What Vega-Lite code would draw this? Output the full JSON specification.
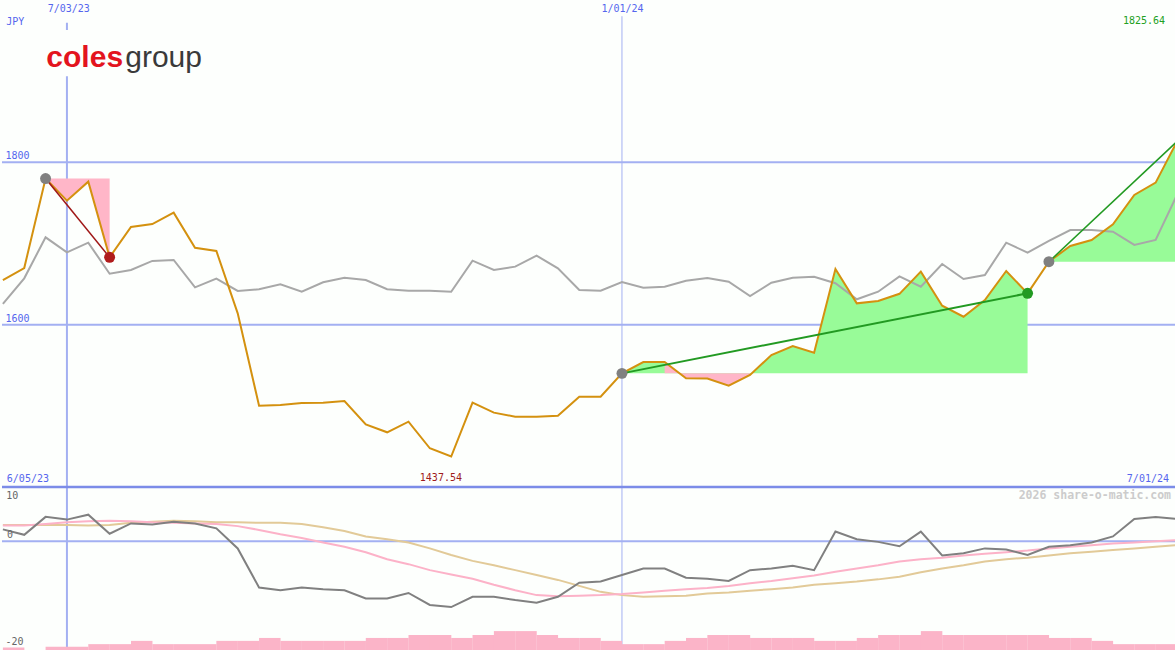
{
  "$schema": "https://vega.github.io/schema/vega-lite/v6.json",
  "background": "#fdfffd",
  "padding": 0,
  "autosize": {"type": "pad"},
  "spacing": 0,
  "bounds": "flush",
  "config": {"view": {"stroke": null}, "axis": {"disable": true}},
  "datasets": {
    "w": [
      {"i":0,"date":"2023-06-12","price":1655,"ref":1625.5,"osc":2.2,"ma1":2.9,"ma2":3.0,"vol":0.8},
      {"i":1,"date":"2023-06-19","price":1669.8,"ref":1657.1,"osc":1.2,"ma1":2.9,"ma2":3.0,"vol":0},
      {"i":2,"date":"2023-06-26","price":1780,"ref":1707.6,"osc":4.5,"ma1":3.2,"ma2":3.0,"vol":1.0},
      {"i":3,"date":"2023-07-03","price":1752.8,"ref":1689.1,"osc":4.0,"ma1":3.5,"ma2":3.0,"vol":1.0},
      {"i":4,"date":"2023-07-10","price":1776.2,"ref":1701,"osc":4.9,"ma1":3.7,"ma2":2.9,"vol":1.8},
      {"i":5,"date":"2023-07-17","price":1683,"ref":1662.8,"osc":1.4,"ma1":3.8,"ma2":3.0,"vol":1.8},
      {"i":6,"date":"2023-07-24","price":1720.3,"ref":1667.4,"osc":3.3,"ma1":3.7,"ma2":3.4,"vol":2.8},
      {"i":7,"date":"2023-07-31","price":1724,"ref":1678.5,"osc":3.1,"ma1":3.5,"ma2":3.6,"vol":1.8},
      {"i":8,"date":"2023-08-07","price":1738,"ref":1679.7,"osc":3.6,"ma1":3.4,"ma2":3.8,"vol":1.8},
      {"i":9,"date":"2023-08-14","price":1694.8,"ref":1646,"osc":3.3,"ma1":3.3,"ma2":3.7,"vol":1.8},
      {"i":10,"date":"2023-08-21","price":1690.8,"ref":1656.7,"osc":2.4,"ma1":3.2,"ma2":3.5,"vol":2.8},
      {"i":11,"date":"2023-08-28","price":1614,"ref":1641.5,"osc":-1.3,"ma1":2.8,"ma2":3.5,"vol":2.8},
      {"i":12,"date":"2023-09-04","price":1500.2,"ref":1643.6,"osc":-8.5,"ma1":2.1,"ma2":3.4,"vol":3.7},
      {"i":13,"date":"2023-09-11","price":1501,"ref":1649.7,"osc":-9.0,"ma1":1.3,"ma2":3.4,"vol":2.8},
      {"i":14,"date":"2023-09-18","price":1503.5,"ref":1640.6,"osc":-8.5,"ma1":0.6,"ma2":3.2,"vol":2.8},
      {"i":15,"date":"2023-09-25","price":1503.9,"ref":1652.2,"osc":-8.8,"ma1":-0.2,"ma2":2.6,"vol":2.8},
      {"i":16,"date":"2023-10-02","price":1506,"ref":1657.9,"osc":-9.0,"ma1":-1.0,"ma2":1.9,"vol":2.8},
      {"i":17,"date":"2023-10-09","price":1477,"ref":1655,"osc":-10.5,"ma1":-2.0,"ma2":0.9,"vol":3.7},
      {"i":18,"date":"2023-10-16","price":1467.4,"ref":1643.6,"osc":-10.5,"ma1":-3.3,"ma2":0.4,"vol":3.7},
      {"i":19,"date":"2023-10-23","price":1480.5,"ref":1641.9,"osc":-9.5,"ma1":-4.2,"ma2":-0.2,"vol":4.6},
      {"i":20,"date":"2023-10-30","price":1447.7,"ref":1641.9,"osc":-11.7,"ma1":-5.3,"ma2":-1.3,"vol":4.6},
      {"i":21,"date":"2023-11-06","price":1437.54,"ref":1640.6,"osc":-12.1,"ma1":-6.1,"ma2":-2.5,"vol":3.7},
      {"i":22,"date":"2023-11-13","price":1503.9,"ref":1678.8,"osc":-10.2,"ma1":-6.9,"ma2":-3.6,"vol":4.6},
      {"i":23,"date":"2023-11-20","price":1491.6,"ref":1667.4,"osc":-10.2,"ma1":-8.0,"ma2":-4.4,"vol":5.8},
      {"i":24,"date":"2023-11-27","price":1486.7,"ref":1671.5,"osc":-10.8,"ma1":-9.0,"ma2":-5.3,"vol":5.8},
      {"i":25,"date":"2023-12-04","price":1486.7,"ref":1685,"osc":-11.3,"ma1":-9.9,"ma2":-6.2,"vol":4.6},
      {"i":26,"date":"2023-12-11","price":1487.9,"ref":1669.4,"osc":-10.2,"ma1":-10.1,"ma2":-7.1,"vol":3.7},
      {"i":27,"date":"2023-12-18","price":1511.3,"ref":1642.7,"osc":-7.6,"ma1":-10.0,"ma2":-8.2,"vol":3.7},
      {"i":28,"date":"2023-12-25","price":1511.3,"ref":1641.9,"osc":-7.4,"ma1":-9.9,"ma2":-9.3,"vol":2.8},
      {"i":29,"date":"2024-01-01","price":1540,"ref":1652.6,"osc":-6.2,"ma1":-9.7,"ma2":-9.9,"vol":1.8},
      {"i":30,"date":"2024-01-08","price":1554,"ref":1645.6,"osc":-5.0,"ma1":-9.4,"ma2":-10.2,"vol":1.8},
      {"i":31,"date":"2024-01-15","price":1554,"ref":1646.8,"osc":-5.0,"ma1":-9.1,"ma2":-10.1,"vol":2.8},
      {"i":32,"date":"2024-01-22","price":1533.9,"ref":1654.2,"osc":-6.7,"ma1":-8.8,"ma2":-10.0,"vol":3.7},
      {"i":33,"date":"2024-01-29","price":1533.7,"ref":1657.5,"osc":-6.9,"ma1":-8.6,"ma2":-9.6,"vol":4.6},
      {"i":34,"date":"2024-02-05","price":1524.9,"ref":1653,"osc":-7.3,"ma1":-8.2,"ma2":-9.4,"vol":4.6},
      {"i":35,"date":"2024-02-12","price":1538,"ref":1635.3,"osc":-5.3,"ma1":-7.7,"ma2":-9.1,"vol":3.7},
      {"i":36,"date":"2024-02-19","price":1562.6,"ref":1651.7,"osc":-5.0,"ma1":-7.3,"ma2":-8.8,"vol":3.7},
      {"i":37,"date":"2024-02-26","price":1573.7,"ref":1657.9,"osc":-4.5,"ma1":-6.8,"ma2":-8.5,"vol":3.7},
      {"i":38,"date":"2024-03-04","price":1565.5,"ref":1659.1,"osc":-5.3,"ma1":-6.3,"ma2":-8.0,"vol":2.8},
      {"i":39,"date":"2024-03-11","price":1668.6,"ref":1651,"osc":1.8,"ma1":-5.6,"ma2":-7.7,"vol":2.8},
      {"i":40,"date":"2024-03-18","price":1626.3,"ref":1631.3,"osc":0.4,"ma1":-5.0,"ma2":-7.4,"vol":3.7},
      {"i":41,"date":"2024-03-25","price":1629.2,"ref":1640.6,"osc":-0.1,"ma1":-4.4,"ma2":-7.0,"vol":4.6},
      {"i":42,"date":"2024-04-01","price":1638,"ref":1659.5,"osc":-0.9,"ma1":-3.7,"ma2":-6.5,"vol":4.6},
      {"i":43,"date":"2024-04-08","price":1665.3,"ref":1646.8,"osc":1.8,"ma1":-3.3,"ma2":-5.7,"vol":5.8},
      {"i":44,"date":"2024-04-15","price":1623.4,"ref":1674.8,"osc":-2.6,"ma1":-3.0,"ma2":-5.0,"vol":4.6},
      {"i":45,"date":"2024-04-22","price":1609.8,"ref":1656.3,"osc":-2.2,"ma1":-2.6,"ma2":-4.4,"vol":4.6},
      {"i":46,"date":"2024-04-29","price":1630.4,"ref":1661.2,"osc":-1.3,"ma1":-2.3,"ma2":-3.7,"vol":4.6},
      {"i":47,"date":"2024-05-06","price":1666.1,"ref":1701,"osc":-1.5,"ma1":-2.0,"ma2":-3.3,"vol":4.6},
      {"i":48,"date":"2024-05-13","price":1638.6,"ref":1688.7,"osc":-2.5,"ma1":-1.7,"ma2":-3.0,"vol":4.6},
      {"i":49,"date":"2024-05-20","price":1677.6,"ref":1703.1,"osc":-1.0,"ma1":-1.3,"ma2":-2.6,"vol":3.7},
      {"i":50,"date":"2024-05-27","price":1696.9,"ref":1716.6,"osc":-0.7,"ma1":-1.0,"ma2":-2.2,"vol":3.7},
      {"i":51,"date":"2024-06-03","price":1704.3,"ref":1716.6,"osc":-0.2,"ma1":-0.7,"ma2":-1.9,"vol":2.8},
      {"i":52,"date":"2024-06-10","price":1723.6,"ref":1714.6,"osc":0.9,"ma1":-0.4,"ma2":-1.6,"vol":1.8},
      {"i":53,"date":"2024-06-17","price":1759.8,"ref":1698.2,"osc":4.1,"ma1":-0.2,"ma2":-1.3,"vol":1.8},
      {"i":54,"date":"2024-06-24","price":1775,"ref":1704.3,"osc":4.5,"ma1":0.0,"ma2":-1.0,"vol":1.8},
      {"i":55,"date":"2024-07-01","price":1825.64,"ref":1760,"osc":4.1,"ma1":0.2,"ma2":-0.7,"vol":1.8}
    ],
    "hgrid": [{"v": 1800}, {"v": 1600}],
    "one": [{}]
  },
  "vconcat": [
    {
      "width": 1175,
      "height": 487,
      "layer": [
        {
          "data": {"name": "hgrid"},
          "mark": {"type": "rule", "color": "#a3b0f2", "strokeWidth": 2},
          "encoding": {"y": {"field": "v", "type": "quantitative", "scale": {"domain": [1400, 2000], "nice": false, "zero": false}, "axis": null}}
        },
        {
          "data": {"name": "one"},
          "mark": {"type": "rule", "color": "#a3b0f2", "strokeWidth": 2},
          "encoding": {
            "x": {"datum": {"year": 2023, "month": 7, "date": 3, "utc": true}, "type": "temporal", "scale": {"type": "utc", "domain": [{"year": 2023, "month": 6, "date": 11, "hours": 17, "utc": true}, {"year": 2024, "month": 7, "date": 1, "utc": true}]}, "axis": null},
            "y": {"datum": 1972, "type": "quantitative"},
            "y2": {"datum": 1400}
          }
        },
        {
          "data": {"name": "one"},
          "mark": {"type": "rule", "color": "#a3b0f2", "strokeWidth": 1},
          "encoding": {
            "x": {"datum": {"year": 2024, "month": 1, "date": 1, "utc": true}, "type": "temporal"},
            "y": {"datum": 1980, "type": "quantitative"},
            "y2": {"datum": 1400}
          }
        },
        {
          "data": {"name": "one"},
          "mark": {"type": "rect", "color": "#fdfffd"},
          "encoding": {
            "x": {"datum": {"year": 2023, "month": 6, "date": 25, "utc": true}, "type": "temporal"},
            "x2": {"datum": {"year": 2023, "month": 7, "date": 30, "utc": true}},
            "y": {"datum": 1963, "type": "quantitative"},
            "y2": {"datum": 1906}
          }
        },
        {
          "data": {"name": "w"},
          "transform": [{"filter": "datum.i >= 29 && datum.i <= 48"}],
          "mark": {"type": "area", "color": "#98fb98", "opacity": 1, "clip": true},
          "encoding": {
            "x": {"field": "date", "type": "temporal"},
            "y": {"field": "price", "type": "quantitative", "stack": null},
            "y2": {"datum": 1540}
          }
        },
        {
          "data": {"name": "w"},
          "transform": [{"filter": "datum.i >= 49"}],
          "mark": {"type": "area", "color": "#98fb98", "opacity": 1, "clip": true},
          "encoding": {
            "x": {"field": "date", "type": "temporal"},
            "y": {"field": "price", "type": "quantitative", "stack": null},
            "y2": {"datum": 1677.6}
          }
        },
        {
          "data": {"name": "w"},
          "transform": [{"filter": "datum.i >= 2 && datum.i <= 5"}],
          "mark": {"type": "area", "color": "#ffb6c8", "opacity": 1, "clip": true},
          "encoding": {
            "x": {"field": "date", "type": "temporal"},
            "y": {"field": "price", "type": "quantitative", "stack": null},
            "y2": {"datum": 1780}
          }
        },
        {
          "data": {"name": "w"},
          "transform": [{"filter": "datum.i >= 31 && datum.i <= 35"}],
          "mark": {"type": "area", "color": "#ffb6c8", "opacity": 1, "clip": true},
          "encoding": {
            "x": {"field": "date", "type": "temporal"},
            "y": {"field": "price", "type": "quantitative", "stack": null},
            "y2": {"datum": 1540}
          }
        },
        {
          "data": {"name": "w"},
          "mark": {"type": "line", "color": "#a8a8a8", "strokeWidth": 2, "clip": true},
          "encoding": {
            "x": {"field": "date", "type": "temporal"},
            "y": {"field": "ref", "type": "quantitative"}
          }
        },
        {
          "data": {"name": "w"},
          "mark": {"type": "line", "color": "#d4910f", "strokeWidth": 2, "clip": true},
          "encoding": {
            "x": {"field": "date", "type": "temporal"},
            "y": {"field": "price", "type": "quantitative"}
          }
        },
        {
          "data": {"name": "w"},
          "transform": [{"filter": "datum.i == 2 || datum.i == 5"}],
          "mark": {"type": "line", "color": "#a01818", "strokeWidth": 1.5, "clip": true},
          "encoding": {
            "x": {"field": "date", "type": "temporal"},
            "y": {"field": "price", "type": "quantitative"}
          }
        },
        {
          "data": {"name": "w"},
          "transform": [{"filter": "datum.i == 29 || datum.i == 48"}],
          "mark": {"type": "line", "color": "#229a22", "strokeWidth": 2, "clip": true},
          "encoding": {
            "x": {"field": "date", "type": "temporal"},
            "y": {"field": "price", "type": "quantitative"}
          }
        },
        {
          "data": {"name": "w"},
          "transform": [{"filter": "datum.i == 49 || datum.i == 55"}],
          "mark": {"type": "line", "color": "#229a22", "strokeWidth": 1.5, "clip": true},
          "encoding": {
            "x": {"field": "date", "type": "temporal"},
            "y": {"field": "price", "type": "quantitative"}
          }
        },
        {
          "data": {"name": "w"},
          "transform": [{"filter": "datum.i == 2 || datum.i == 29 || datum.i == 49"}],
          "mark": {"type": "circle", "color": "#808080", "size": 120, "opacity": 1},
          "encoding": {
            "x": {"field": "date", "type": "temporal"},
            "y": {"field": "price", "type": "quantitative"}
          }
        },
        {
          "data": {"name": "w"},
          "transform": [{"filter": "datum.i == 5"}],
          "mark": {"type": "circle", "color": "#b01c1c", "size": 120, "opacity": 1},
          "encoding": {
            "x": {"field": "date", "type": "temporal"},
            "y": {"field": "price", "type": "quantitative"}
          }
        },
        {
          "data": {"name": "w"},
          "transform": [{"filter": "datum.i == 48"}],
          "mark": {"type": "circle", "color": "#229a22", "size": 120, "opacity": 1},
          "encoding": {
            "x": {"field": "date", "type": "temporal"},
            "y": {"field": "price", "type": "quantitative"}
          }
        },
        {
          "data": {"name": "one"},
          "mark": {"type": "text", "text": "coles", "align": "left", "baseline": "alphabetic", "font": "Liberation Sans", "fontWeight": "bold", "fontSize": 30, "color": "#e3141e"},
          "encoding": {
            "x": {"datum": {"year": 2023, "month": 6, "date": 26, "hours": 6, "utc": true}, "type": "temporal"},
            "y": {"datum": 1918, "type": "quantitative"}
          }
        },
        {
          "data": {"name": "one"},
          "mark": {"type": "text", "text": "group", "align": "left", "baseline": "alphabetic", "font": "Liberation Sans", "fontSize": 30, "color": "#3a3a3a"},
          "encoding": {
            "x": {"datum": {"year": 2023, "month": 7, "date": 22, "hours": 3, "utc": true}, "type": "temporal"},
            "y": {"datum": 1918, "type": "quantitative"}
          }
        },
        {
          "data": {"name": "one"},
          "mark": {"type": "text", "text": "JPY", "align": "left", "baseline": "middle", "font": "DejaVu Sans Mono", "fontSize": 10, "color": "#5566ee"},
          "encoding": {
            "x": {"datum": {"year": 2023, "month": 6, "date": 13, "hours": 3, "utc": true}, "type": "temporal"},
            "y": {"datum": 1973.3, "type": "quantitative"}
          }
        },
        {
          "data": {"name": "one"},
          "mark": {"type": "text", "text": "7/03/23", "align": "center", "baseline": "middle", "font": "DejaVu Sans Mono", "fontSize": 10, "color": "#5566ee"},
          "encoding": {
            "x": {"datum": {"year": 2023, "month": 7, "date": 3, "hours": 14, "utc": true}, "type": "temporal"},
            "y": {"datum": 1988.9, "type": "quantitative"}
          }
        },
        {
          "data": {"name": "one"},
          "mark": {"type": "text", "text": "1/01/24", "align": "center", "baseline": "middle", "font": "DejaVu Sans Mono", "fontSize": 10, "color": "#5566ee"},
          "encoding": {
            "x": {"datum": {"year": 2024, "month": 1, "date": 1, "hours": 4, "utc": true}, "type": "temporal"},
            "y": {"datum": 1988.9, "type": "quantitative"}
          }
        },
        {
          "data": {"name": "one"},
          "mark": {"type": "text", "text": "1825.64", "align": "right", "baseline": "middle", "font": "DejaVu Sans Mono", "fontSize": 10, "color": "#22a022"},
          "encoding": {
            "x": {"datum": {"year": 2024, "month": 6, "date": 27, "hours": 2, "utc": true}, "type": "temporal"},
            "y": {"datum": 1974.1, "type": "quantitative"}
          }
        },
        {
          "data": {"name": "one"},
          "mark": {"type": "text", "text": "1800", "align": "left", "baseline": "middle", "font": "DejaVu Sans Mono", "fontSize": 10, "color": "#5566ee"},
          "encoding": {
            "x": {"datum": {"year": 2023, "month": 6, "date": 12, "hours": 20, "utc": true}, "type": "temporal"},
            "y": {"datum": 1807.8, "type": "quantitative"}
          }
        },
        {
          "data": {"name": "one"},
          "mark": {"type": "text", "text": "1600", "align": "left", "baseline": "middle", "font": "DejaVu Sans Mono", "fontSize": 10, "color": "#5566ee"},
          "encoding": {
            "x": {"datum": {"year": 2023, "month": 6, "date": 12, "hours": 20, "utc": true}, "type": "temporal"},
            "y": {"datum": 1607.4, "type": "quantitative"}
          }
        },
        {
          "data": {"name": "one"},
          "mark": {"type": "text", "text": "6/05/23", "align": "left", "baseline": "middle", "font": "DejaVu Sans Mono", "fontSize": 10, "color": "#5566ee"},
          "encoding": {
            "x": {"datum": {"year": 2023, "month": 6, "date": 13, "hours": 7, "utc": true}, "type": "temporal"},
            "y": {"datum": 1409.9, "type": "quantitative"}
          }
        },
        {
          "data": {"name": "one"},
          "mark": {"type": "text", "text": "1437.54", "align": "center", "baseline": "middle", "font": "DejaVu Sans Mono", "fontSize": 10, "color": "#a01c1c"},
          "encoding": {
            "x": {"datum": {"year": 2023, "month": 11, "date": 2, "hours": 15, "utc": true}, "type": "temporal"},
            "y": {"datum": 1410.5, "type": "quantitative"}
          }
        },
        {
          "data": {"name": "one"},
          "mark": {"type": "text", "text": "7/01/24", "align": "right", "baseline": "middle", "font": "DejaVu Sans Mono", "fontSize": 10, "color": "#5566ee"},
          "encoding": {
            "x": {"datum": {"year": 2024, "month": 6, "date": 28, "hours": 9, "utc": true}, "type": "temporal"},
            "y": {"datum": 1409.9, "type": "quantitative"}
          }
        }
      ]
    },
    {
      "width": 1175,
      "height": 163,
      "layer": [
        {
          "layer": [
            {
              "data": {"name": "one"},
              "mark": {"type": "rule", "color": "#a3b0f2", "strokeWidth": 2},
              "encoding": {"y": {"datum": 0, "type": "quantitative", "scale": {"domain": [-20, 10], "nice": false, "zero": false}, "axis": null}}
            },
            {
              "data": {"name": "one"},
              "mark": {"type": "rule", "color": "#a3b0f2", "strokeWidth": 2},
              "encoding": {
                "x": {"datum": {"year": 2023, "month": 7, "date": 3, "utc": true}, "type": "temporal", "scale": {"type": "utc", "domain": [{"year": 2023, "month": 6, "date": 11, "hours": 17, "utc": true}, {"year": 2024, "month": 7, "date": 1, "utc": true}]}, "axis": null}
              }
            },
            {
              "data": {"name": "one"},
              "mark": {"type": "rule", "color": "#a3b0f2", "strokeWidth": 1},
              "encoding": {
                "x": {"datum": {"year": 2024, "month": 1, "date": 1, "utc": true}, "type": "temporal"}
              }
            },
            {
              "data": {"name": "w"},
              "mark": {"type": "line", "color": "#e2ca98", "strokeWidth": 2, "clip": true},
              "encoding": {
                "x": {"field": "date", "type": "temporal"},
                "y": {"field": "ma2", "type": "quantitative"}
              }
            },
            {
              "data": {"name": "w"},
              "mark": {"type": "line", "color": "#fcb2c8", "strokeWidth": 2, "clip": true},
              "encoding": {
                "x": {"field": "date", "type": "temporal"},
                "y": {"field": "ma1", "type": "quantitative"}
              }
            },
            {
              "data": {"name": "w"},
              "mark": {"type": "line", "color": "#808080", "strokeWidth": 2, "clip": true},
              "encoding": {
                "x": {"field": "date", "type": "temporal"},
                "y": {"field": "osc", "type": "quantitative"}
              }
            },
            {
              "data": {"name": "one"},
              "mark": {"type": "rule", "color": "#7c8ce8", "strokeWidth": 2.5},
              "encoding": {"y": {"datum": 10, "type": "quantitative"}}
            },
            {
              "data": {"name": "one"},
              "mark": {"type": "text", "text": "10", "align": "left", "baseline": "middle", "font": "DejaVu Sans Mono", "fontSize": 10, "color": "#666666"},
              "encoding": {
                "x": {"datum": {"year": 2023, "month": 6, "date": 13, "hours": 3, "utc": true}, "type": "temporal"},
                "y": {"datum": 8.34, "type": "quantitative"}
              }
            },
            {
              "data": {"name": "one"},
              "mark": {"type": "text", "text": "0", "align": "left", "baseline": "middle", "font": "DejaVu Sans Mono", "fontSize": 10, "color": "#666666"},
              "encoding": {
                "x": {"datum": {"year": 2023, "month": 6, "date": 13, "hours": 8, "utc": true}, "type": "temporal"},
                "y": {"datum": 1.13, "type": "quantitative"}
              }
            },
            {
              "data": {"name": "one"},
              "mark": {"type": "text", "text": "-20", "align": "left", "baseline": "middle", "font": "DejaVu Sans Mono", "fontSize": 10, "color": "#666666"},
              "encoding": {
                "x": {"datum": {"year": 2023, "month": 6, "date": 12, "hours": 20, "utc": true}, "type": "temporal"},
                "y": {"datum": -18.47, "type": "quantitative"}
              }
            },
            {
              "data": {"name": "one"},
              "mark": {"type": "text", "text": "2026 share-o-matic.com", "align": "right", "baseline": "middle", "font": "DejaVu Sans Mono", "fontWeight": "bold", "fontSize": 11.5, "color": "#cccccc"},
              "encoding": {
                "x": {"datum": {"year": 2024, "month": 6, "date": 29, "hours": 1, "utc": true}, "type": "temporal"},
                "y": {"datum": 8.3, "type": "quantitative"}
              }
            }
          ]
        },
        {
          "data": {"name": "w"},
          "mark": {"type": "rect", "color": "#fbb4c8", "x2Offset": 21.5, "clip": true},
          "encoding": {
            "x": {"field": "date", "type": "temporal"},
            "x2": {"field": "date"},
            "y": {"field": "vol", "type": "quantitative", "scale": {"domain": [0, 50], "nice": false, "zero": true}, "axis": null},
            "y2": {"datum": 0}
          }
        }
      ],
      "resolve": {"scale": {"y": "independent"}}
    }
  ]
}
